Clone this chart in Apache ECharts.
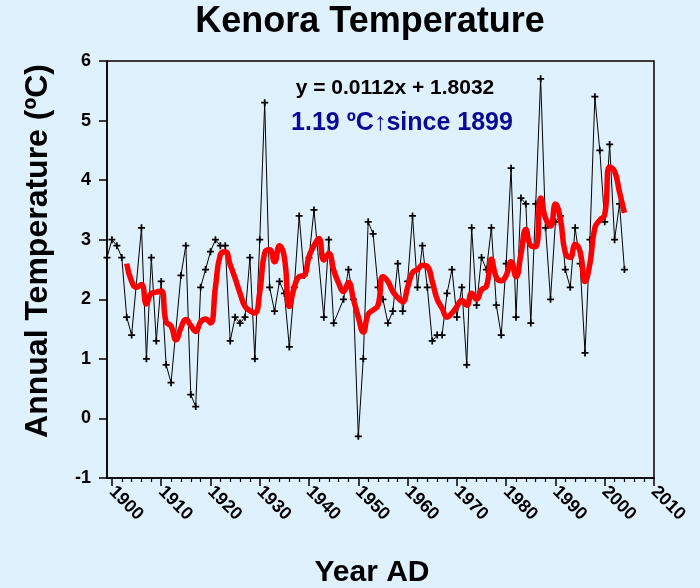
<!DOCTYPE html>
<html>
<head>
<meta charset="utf-8">
<script src="https://cdn.jsdelivr.net/npm/echarts@6/dist/echarts.min.js"></script>
<style>
  html, body { margin: 0; padding: 0; background: #E0F1FE; }
  #chart { width: 700px; height: 588px; }
</style>
</head>
<body>
<div id="chart"></div>
<script>
// annual mean temperature, one value per year from 1899 (null = no marker)
const firstYear = 1899
const annualTemp = [
  2.7,                                                  // 1899
  3.0, 2.9, 2.7, 1.7, 1.4, null, 3.2, 1.0, 2.7, 1.3,    // 1900s
  2.3, 0.9, 0.6, null, 2.4, 2.9, 0.4, 0.2, 2.2, 2.5,    // 1910s
  2.8, 3.0, 2.9, 2.9, 1.3, 1.7, 1.6, 1.7, 2.7, 1.0,     // 1920s
  3.0, 5.3, 2.2, 1.8, 2.3, 2.1, 1.2, 2.2, 3.4, 2.4,     // 1930s
  2.7, 3.5, null, 1.7, 3.0, 1.6, null, 2.0, 2.5, 2.0,   // 1940s
  -0.3, 1.0, 3.3, 3.1, 2.2, 2.0, 1.6, 1.8, 2.6, 1.8,    // 1950s
  2.3, 3.4, 2.2, 2.9, 2.2, 1.3, 1.4, 1.4, 2.1, 2.5,     // 1960s
  1.7, 2.2, 0.9, 3.2, 1.9, 2.7, 2.5, 3.2, 1.9, 1.4,     // 1970s
  2.6, 4.2, 1.7, 3.7, 3.6, 1.6, 3.6, 5.7, 3.2, 2.0,     // 1980s
  3.3, 3.4, 2.5, 2.2, 3.2, 2.6, 1.1, 3.0, 5.4, 4.5,     // 1990s
  3.3, 4.6, 3.0, 3.6, 2.5                               // 2000s
]

// smoothed curve (red), from 1903
const smoothStart = 1903
const smoothTemp = [
  2.6, 2.3, 2.2, 2.25, 1.92, 2.1, 2.12,                 // 1903-1909
  2.14, 1.62, 1.55, 1.32, 1.52, 1.66, 1.56, 1.46, 1.62, 1.67,
  1.6, 2.2, 2.75, 2.8, 2.58, 2.35, 2.1, 1.88, 1.81, 1.77,
  2.12, 2.78, 2.83, 2.63, 2.9, 2.7, 1.88, 2.2, 2.38, 2.4,
  2.72, 2.9, 3.02, 2.66, 2.77, 2.49, 2.27, 2.13, 2.28, 2.0,
  1.7, 1.45, 1.75, 1.82, 1.9, 2.38, 2.3, 2.13, 2.03, 1.96,
  2.2, 2.45, 2.5, 2.57, 2.55, 2.3, 2.0, 1.85, 1.7, 1.77,
  1.88, 1.98, 1.9, 2.1, 2.0, 2.16, 2.22, 2.67, 2.37, 2.31,
  2.4, 2.63, 2.38, 2.76, 3.17, 2.9, 2.88, 3.7, 3.36, 3.23,
  3.6, 3.35, 2.78, 2.7, 2.92, 2.8, 2.3, 2.6, 3.2, 3.33,
  3.42, 4.22, 4.15, 3.8, 3.45                           // 2000-2004
]

const majorYears = [1900, 1910, 1920, 1930, 1940, 1950, 1960, 1970, 1980, 1990, 2000, 2010]
const minorYears = [1902, 1904, 1906, 1908, 1912, 1914, 1916, 1918, 1922, 1924, 1926, 1928,
  1932, 1934, 1936, 1938, 1942, 1944, 1946, 1948, 1952, 1954, 1956, 1958, 1962, 1964, 1966, 1968,
  1972, 1974, 1976, 1978, 1982, 1984, 1986, 1988, 1992, 1994, 1996, 1998, 2002, 2004, 2006, 2008]

const font = 'Liberation Sans, Arial, sans-serif'
const plus = 'path://M-1,-4H1V-1H4V1H1V4H-1V1H-4V-1H-1Z'

const chart = echarts.init(document.getElementById('chart'))

const option = {
  backgroundColor: '#E0F1FE',
  animation: false,
  grid: {
    left: 107, right: 46, top: 61, bottom: 110,
    show: true, borderColor: '#000', borderWidth: 1.5, backgroundColor: 'transparent'
  },
  graphic: [
    {
      type: 'text', x: 370, y: 22,
      style: { text: 'Kenora Temperature', font: 'bold 36px ' + font, fill: '#000',
        align: 'center', verticalAlign: 'middle' }
    },
    {
      type: 'text', x: 395, y: 88,
      style: { text: 'y = 0.0112x + 1.8032', font: 'bold 21px ' + font, fill: '#000',
        align: 'center', verticalAlign: 'middle' }
    },
    {
      type: 'text', x: 402, y: 123,
      style: { text: '1.19 ºC↑since 1899', font: 'bold 25px ' + font, fill: '#0A0A96',
        align: 'center', verticalAlign: 'middle' }
    },
    {
      type: 'text', x: 38, y: 251, rotation: Math.PI / 2,
      style: { text: 'Annual Temperature (ºC)', font: 'bold 32px ' + font, fill: '#000',
        align: 'center', verticalAlign: 'middle' }
    },
    {
      type: 'text', x: 372, y: 573,
      style: { text: 'Year AD', font: 'bold 30px ' + font, fill: '#000',
        align: 'center', verticalAlign: 'middle' }
    }
  ],
  xAxis: [
    {
      type: 'value', min: 1899, max: 2010,
      axisLine: { onZero: false, lineStyle: { color: '#000', width: 1.5 } },
      axisTick: { customValues: majorYears, length: 8, lineStyle: { color: '#000', width: 1.5 } },
      axisLabel: {
        customValues: majorYears, rotate: -45, margin: 11,
        formatter: v => String(v),
        color: '#000', fontWeight: 'bold', fontSize: 18, fontFamily: font
      },
      splitLine: { show: false }
    },
    {
      type: 'value', min: 1899, max: 2010, position: 'bottom',
      axisLine: { show: false, onZero: false },
      axisTick: { customValues: minorYears, length: 4, lineStyle: { color: '#000', width: 1.2 } },
      axisLabel: { show: false },
      splitLine: { show: false }
    }
  ],
  yAxis: {
    type: 'value', min: -1, max: 6, interval: 1,
    axisLine: { show: true, lineStyle: { color: '#000', width: 1.5 } },
    axisTick: { show: true, length: 8, lineStyle: { color: '#000', width: 1.5 } },
    axisLabel: { margin: 16, color: '#000', fontWeight: 'bold', fontSize: 18, fontFamily: font },
    splitLine: { show: false }
  },
  series: [
    {
      type: 'line',
      data: annualTemp.map((v, i) => [firstYear + i, v]),
      connectNulls: true,
      symbol: plus,
      symbolSize: 7,
      itemStyle: { color: '#000' },
      lineStyle: { color: '#000', width: 1 },
      z: 2
    },
    {
      type: 'line',
      data: smoothTemp.map((v, i) => [smoothStart + i, v]),
      smooth: 0.5,
      symbol: 'none',
      lineStyle: { color: '#FF0000', width: 5.5 },
      z: 3
    }
  ]
}

chart.setOption(option)
</script>
</body>
</html>
